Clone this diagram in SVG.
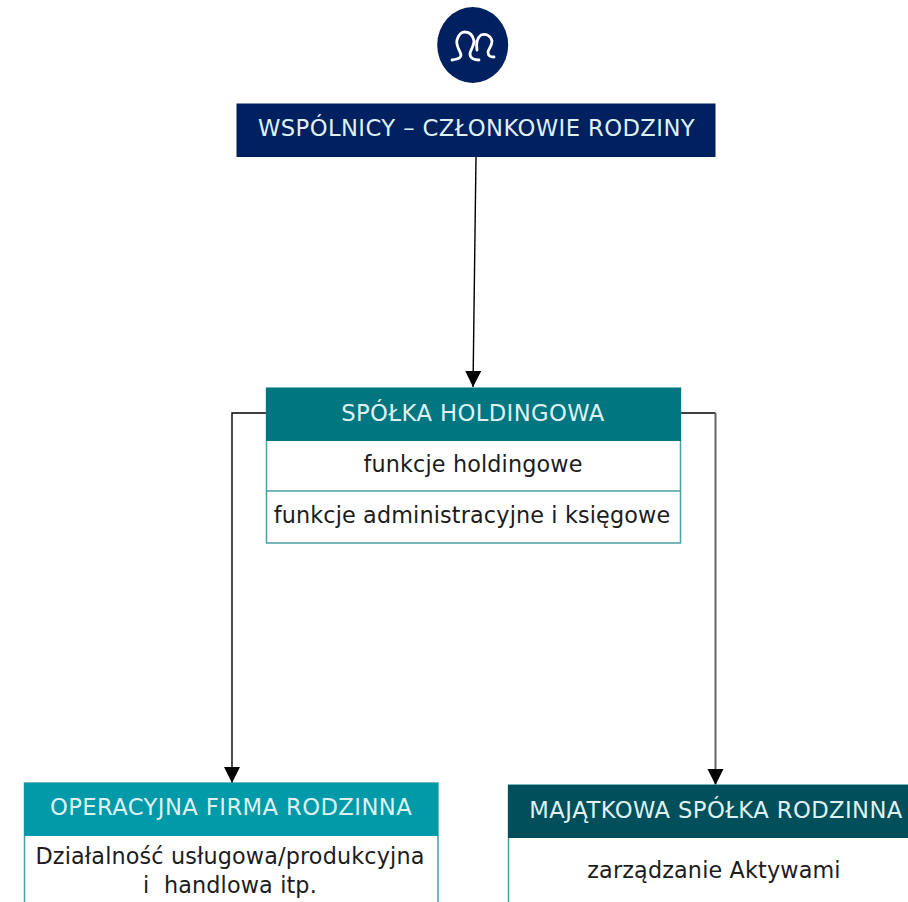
<svg xmlns="http://www.w3.org/2000/svg" width="908" height="902" viewBox="0 0 908 902">
<style>
text{font-family:"DejaVu Sans",Verdana,sans-serif;text-anchor:middle}
.h{font-size:22.700px;letter-spacing:.4px;fill:#dff1f1}
.b{font-size:22.300px;letter-spacing:.15px;fill:#1c1c1c}
.box{fill:#fff;stroke:#4a9ea6;stroke-width:1.500}
.c{fill:none;stroke:#000;stroke-width:1.400}
</style>
<defs><marker id="a" markerUnits="userSpaceOnUse" markerWidth="17" markerHeight="17" refX="16" refY="8" orient="auto"><path d="M0 0L16 8L0 16Z" fill="#000"/></marker></defs>
<rect width="908" height="902" fill="#fff"/>
<g id="connectors">
<path class="c" d="M476 157L473 387" marker-end="url(#a)"/>
<path class="c" d="M267 413H232V783" marker-end="url(#a)"/>
<path class="c" d="M680 413H715.500"/>
<path class="c" d="M715.500 413V785" marker-end="url(#a)" style="stroke:#666;stroke-width:2"/>
</g>
<g id="logo">
<ellipse cx="472.700" cy="45" rx="35.500" ry="38" fill="#002060"/>
<path d="M452 60C458 59 463 58 460 52C457 46 456 43 457 40C459 34 461 32 465 32C470 32 473 36 474 41C474 47 470 50 470 54C470 58 474 60 479 60M477 50C476 44 477 38 481 35C486 33 491 36 492 41C492 47 488 49 488 52C488 56 490 57 494 57" fill="none" stroke="#fff" stroke-width="2.800" stroke-linecap="round"/>
</g>
<g id="wspolnicy">
<rect x="236.500" y="103.500" width="479" height="53.500" fill="#002060"/>
<text class="h" x="476.500" y="136">WSPÓLNICY – CZŁONKOWIE RODZINY</text>
</g>
<g id="holding">
<rect class="box" x="266.500" y="388" width="414" height="155"/>
<rect x="266" y="388" width="415" height="53" fill="#007681"/>
<path d="M266.500 491H680.500" stroke="#4a9ea6" stroke-width="1.500"/>
<text class="h" x="473" y="421">SPÓŁKA HOLDINGOWA</text>
<text class="b" x="473" y="472">funkcje holdingowe</text>
<text class="b" x="472" y="523">funkcje administracyjne i księgowe</text>
</g>
<g id="operacyjna">
<rect class="box" x="24.500" y="783" width="413.500" height="130"/>
<rect x="24" y="783" width="414" height="53" fill="#009aa9"/>
<text class="h" x="231" y="815">OPERACYJNA FIRMA RODZINNA</text>
<text class="b" x="230" y="864">Działalność usługowa/produkcyjna</text>
<text class="b" x="230" y="893" xml:space="preserve">i  handlowa itp.</text>
</g>
<g id="majatkowa">
<rect class="box" x="508.500" y="785" width="410" height="130"/>
<rect x="508" y="785" width="400" height="53" fill="#004f5b"/>
<text class="h" x="716" y="818">MAJĄTKOWA SPÓŁKA RODZINNA</text>
<text class="b" x="714" y="878">zarządzanie Aktywami</text>
</g>
</svg>
